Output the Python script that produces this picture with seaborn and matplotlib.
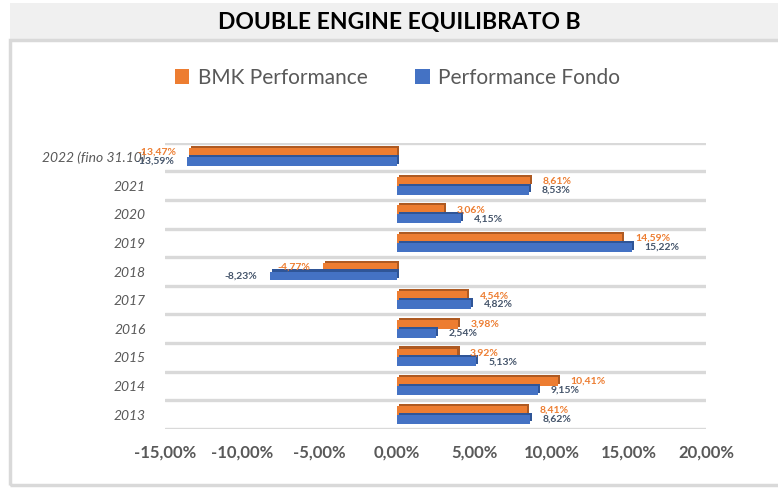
import numpy as np
import pandas as pd
import matplotlib
matplotlib.use("Agg")
import matplotlib.pyplot as plt
import matplotlib.patheffects as pe
from matplotlib.patches import Rectangle
import seaborn as sns

# dati
anni = ['2022 (fino 31.10)', '2021', '2020', '2019', '2018',
        '2017', '2016', '2015', '2014', '2013']
bmk = [-13.47, 8.61, 3.06, 14.59, -4.77, 4.54, 3.98, 3.92, 10.41, 8.41]
fondo = [-13.59, 8.53, 4.15, 15.22, -8.23, 4.82, 2.54, 5.13, 9.15, 8.62]
serie = ['BMK Performance', 'Performance Fondo']
xticks = [-15, -10, -5, 0, 5, 10, 15, 20]

ARANCIO = '#ed7d31'
BLU = '#4472c4'
GRIGIO = '#595959'

df = pd.DataFrame({
    'anno': anni * 2,
    'valore': bmk + fondo,
    'serie': [serie[0]] * len(anni) + [serie[1]] * len(anni),
})

sns.set_theme(style='white')
plt.rcParams['font.family'] = ['Lato', 'DejaVu Sans']

fig = plt.figure(figsize=(7.78, 4.88), dpi=100)

# banda del titolo e cornice
fig.patches.append(Rectangle((10 / 778, 1 - 40 / 488), 1, 37 / 488,
                             transform=fig.transFigure, facecolor='#f0f0f0',
                             edgecolor='none', zorder=0))
fig.patches.append(Rectangle((10 / 778, 3 / 488), 1, 1 - 43 / 488,
                             transform=fig.transFigure, facecolor='none',
                             edgecolor='#d9d9d9', lw=2.5, zorder=0))
fig.text(0.513, 1 - 22 / 488, 'DOUBLE ENGINE EQUILIBRATO B', ha='center',
         va='center', fontsize=16.5, fontweight='bold', color='black')

ax = fig.add_axes([165 / 778, 1 - 429 / 488, 541 / 778, 286.3 / 488])
sns.barplot(data=df, y='anno', x='valore', hue='serie', order=anni,
            hue_order=serie, palette=[ARANCIO, BLU], orient='h',
            width=0.62, saturation=1, linewidth=0, edgecolor='none', ax=ax)

ombre = ['#ae5a22', '#2f5597']
colori_lab = [ARANCIO, '#44546a']
for cont, ombra, col, vals in zip(ax.containers, ombre, colori_lab, [bmk, fondo]):
    for p in cont:
        p.set_path_effects([pe.SimplePatchShadow(offset=(1.5, 1.5),
                                                 shadow_rgbFace=ombra, alpha=1),
                            pe.Normal()])
    labs = [f'{v:.2f}%'.replace('.', ',') for v in vals]
    ax.bar_label(cont, labels=labs, padding=9, fontsize=7.5,
                 fontweight='bold', color=col)

ax.set_xlim(-15, 20)
ax.set_ylim(len(anni) - 0.5, -0.5)
ax.set_xticks(xticks)
ax.set_xticklabels([f'{t:.2f}%'.replace('.', ',') for t in xticks],
                   fontsize=12, fontweight='bold', color=GRIGIO)
ax.set_yticks(np.arange(len(anni)))
ax.set_yticklabels(anni, fontsize=10, style='italic', color=GRIGIO)
ax.set_yticks(np.arange(-0.5, len(anni), 1), minor=True)
ax.tick_params(axis='x', length=0, pad=11)
ax.tick_params(axis='y', which='both', length=0, pad=14)
ax.grid(which='minor', axis='y', color='#d9d9d9', lw=2.4)
ax.grid(which='major', visible=False)
ax.set_axisbelow(True)
for s in ax.spines.values():
    s.set_visible(False)
ax.set_xlabel('')
ax.set_ylabel('')

sns.move_legend(ax, 'center', bbox_to_anchor=(0.43, 1 + 65 / 286.3), ncol=2,
                frameon=False, title=None, fontsize=15, handlelength=0.7,
                handleheight=0.7, columnspacing=2.3, handletextpad=0.4)
for t in ax.get_legend().get_texts():
    t.set_color(GRIGIO)

fig.savefig('out.png', dpi=100)
